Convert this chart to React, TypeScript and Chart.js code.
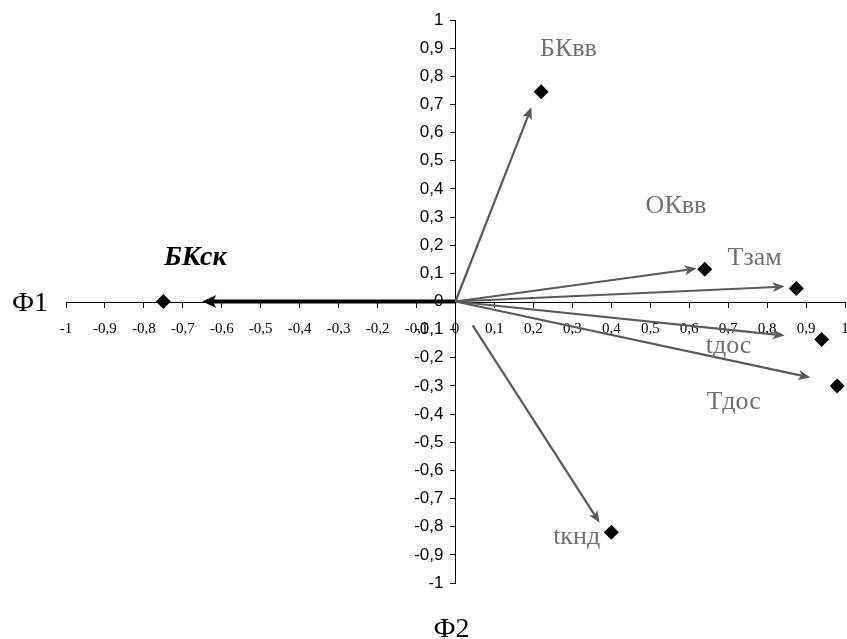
import React, { useEffect, useRef } from "react";
import { Chart, registerables } from "chart.js";

Chart.register(...registerables);

// ---- data ----
const variables = ["БКск", "БКвв", "ОКвв", "Tзам", "tдос", "Tдос", "tкнд"];
const phi1 = [-0.75, 0.22, 0.64, 0.875, 0.94, 0.98, 0.4];
const phi2 = [0, 0.745, 0.115, 0.046, -0.135, -0.3, -0.82];
const arrowStartX = [0, 0, 0, 0, 0, 0, 0.044];
const arrowStartY = [0, 0, 0, 0, 0, 0, -0.085];
const arrowEndX = [-0.65, 0.195, 0.619, 0.845, 0.845, 0.911, 0.37];
const arrowEndY = [0, 0.69, 0.117, 0.053, -0.121, -0.27, -0.786];
const labelX = [-0.668, 0.29, 0.566, 0.768, 0.701, 0.714, 0.311];
const labelY = [0.155, 0.897, 0.338, 0.153, -0.16, -0.356, -0.836];
const tickValues = [-1, -0.9, -0.8, -0.7, -0.6, -0.5, -0.4, -0.3, -0.2, -0.1, 0, 0.1, 0.2, 0.3, 0.4, 0.5, 0.6, 0.7, 0.8, 0.9, 1];
const xAxisTitle = "Ф1";
const yAxisTitle = "Ф2";

const fmt = (v: number) => {
  const r = Math.round(v * 10) / 10;
  if (r === 0) return "0";
  return String(r).replace(".", ",");
};

const drawArrow = (ctx: CanvasRenderingContext2D, x1: number, y1: number, x2: number, y2: number, color: string, width: number, head: number, headW: number) => {
  const ang = Math.atan2(y2 - y1, x2 - x1);
  const bx = x2 - head * Math.cos(ang);
  const by = y2 - head * Math.sin(ang);
  const nx = x2 - head * 0.75 * Math.cos(ang);
  const ny = y2 - head * 0.75 * Math.sin(ang);
  ctx.save();
  ctx.strokeStyle = color;
  ctx.fillStyle = color;
  ctx.lineWidth = width;
  ctx.beginPath();
  ctx.moveTo(x1, y1);
  ctx.lineTo(nx, ny);
  ctx.stroke();
  ctx.beginPath();
  ctx.moveTo(x2, y2);
  ctx.lineTo(bx + headW * Math.sin(ang), by - headW * Math.cos(ang));
  ctx.lineTo(nx, ny);
  ctx.lineTo(bx - headW * Math.sin(ang), by + headW * Math.cos(ang));
  ctx.closePath();
  ctx.fill();
  ctx.restore();
};

const vectorPlugin = {
  id: "vectors",
  beforeDatasetsDraw(chart: any) {
    const { ctx, scales } = chart;
    const xs = scales.x;
    const ys = scales.y;
    variables.forEach((_, i) => {
      const bold = i === 0;
      drawArrow(
        ctx,
        xs.getPixelForValue(arrowStartX[i]),
        ys.getPixelForValue(arrowStartY[i]),
        xs.getPixelForValue(arrowEndX[i]),
        ys.getPixelForValue(arrowEndY[i]),
        bold ? "#000000" : "#5a5a5a",
        bold ? 4 : 2.2,
        bold ? 14 : 12,
        bold ? 6.5 : 5
      );
    });
  },
  afterDraw(chart: any) {
    const { ctx, scales, chartArea } = chart;
    const xs = scales.x;
    const ys = scales.y;
    ctx.save();
    ctx.textAlign = "center";
    ctx.textBaseline = "middle";
    variables.forEach((name, i) => {
      if (i === 0) {
        ctx.font = "italic bold 28px 'Liberation Serif'";
        ctx.fillStyle = "#000000";
      } else {
        ctx.font = "26px 'Liberation Serif'";
        ctx.fillStyle = "#707070";
      }
      ctx.fillText(name, xs.getPixelForValue(labelX[i]), ys.getPixelForValue(labelY[i]));
    });
    ctx.font = "28px 'Liberation Serif'";
    ctx.fillStyle = "#000000";
    ctx.fillText(xAxisTitle, chartArea.left - 36, ys.getPixelForValue(0) + 2);
    ctx.fillText(yAxisTitle, xs.getPixelForValue(0) - 4, chartArea.bottom + 47);
    ctx.restore();
  },
};

export default function App() {
  const ref = useRef<HTMLCanvasElement | null>(null);
  useEffect(() => {
    if (!ref.current) return;
    const chart = new Chart(ref.current, {
      type: "scatter",
      data: {
        datasets: [
          {
            data: phi1.map((x, i) => ({ x, y: phi2[i] })),
            pointStyle: "rectRot",
            pointRadius: 7.5,
            backgroundColor: "#000000",
            borderColor: "#000000",
            borderWidth: 0,
            clip: false as any,
          },
        ],
      },
      options: {
        animation: false,
        responsive: false,
        maintainAspectRatio: false,
        layout: { autoPadding: false, padding: { left: 66, right: 2, top: 20, bottom: 56 } },
        plugins: { legend: { display: false }, tooltip: { enabled: false } },
        scales: {
          x: {
            type: "linear",
            min: -1,
            max: 1,
            position: "center",
            afterBuildTicks: (s: any) => {
              s.ticks = tickValues.map((v) => ({ value: v }));
            },
            afterFit: (s: any) => {
              s.paddingLeft = 0;
              s.paddingRight = 0;
              s.height = 0;
            },
            border: { color: "#000000", width: 1 },
            grid: { drawOnChartArea: false, drawTicks: true, tickLength: 5, color: "#000000" },
            ticks: {
              autoSkip: false,
              maxRotation: 0,
              padding: 14,
              color: "#000000",
              font: { family: "Liberation Serif, serif", size: 15 },
              callback: (v: any) => fmt(Number(v)),
            },
          },
          y: {
            type: "linear",
            min: -1,
            max: 1,
            position: "center",
            afterBuildTicks: (s: any) => {
              s.ticks = tickValues.map((v) => ({ value: v }));
            },
            afterFit: (s: any) => {
              s.paddingTop = 0;
              s.paddingBottom = 0;
              s.width = 0;
            },
            border: { color: "#000000", width: 1 },
            grid: { drawOnChartArea: false, drawTicks: true, tickLength: 5, color: "#000000" },
            ticks: {
              autoSkip: false,
              padding: 7,
              color: "#000000",
              font: { family: "Liberation Sans, Arial, sans-serif", size: 17 },
              callback: (v: any) => fmt(Number(v)),
            },
          },
        },
      },
      plugins: [vectorPlugin],
    });
    return () => chart.destroy();
  }, []);
  return (
    <div style={{ position: "fixed", left: 0, top: 0, width: 847, height: 639, background: "#ffffff" }}>
      <canvas ref={ref} width={847} height={639} style={{ width: 847, height: 639 }} />
    </div>
  );
}
